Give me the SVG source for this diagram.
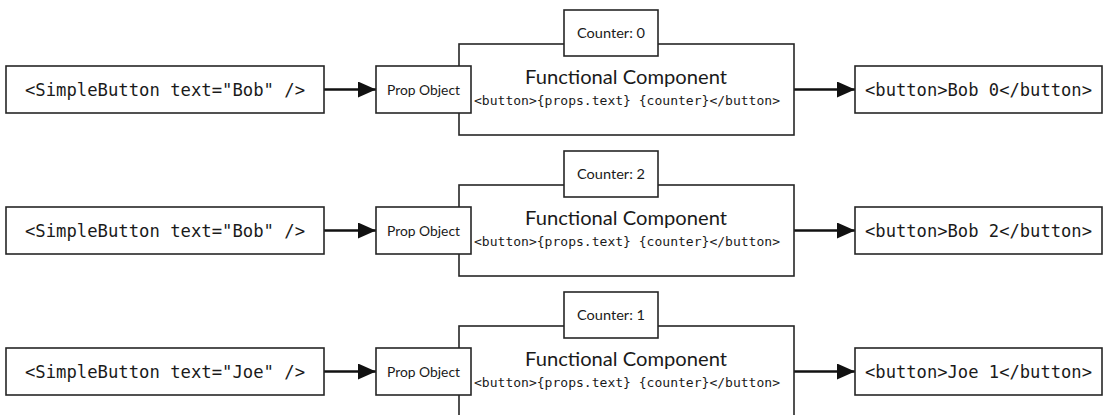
<svg xmlns="http://www.w3.org/2000/svg" width="1105" height="415" viewBox="0 0 1105 415">
  <style>
    .box { fill: #ffffff; stroke: #262626; stroke-width: 1.6; }
    .mono { font-family: "DejaVu Sans Mono", "Liberation Mono", monospace; fill: #1a1a1a; text-anchor: middle; }
    .big { font-size: 17px; }
    .code { font-size: 13px; }
    .sans { font-family: Lato, "Open Sans", "Liberation Sans", sans-serif; fill: #1a1a1a; text-anchor: middle; }
    .title { font-size: 19px; }
    .small { font-size: 13.5px; }
    .conn { stroke: #111111; stroke-width: 2.6; fill: none; marker-end: url(#arrow); }
  </style>
  <defs>
    <marker id="arrow" markerUnits="userSpaceOnUse" markerWidth="18" markerHeight="16" refX="18" refY="8" orient="auto">
      <path d="M0,0 L18,8 L0,16 z" fill="#111111"/>
    </marker>
  </defs>
  <rect width="1105" height="415" fill="#ffffff"/>

  <g id="connectors">
    <line class="conn" x1="324" y1="89.5" x2="376" y2="89.5"/>
    <line class="conn" x1="794" y1="89.5" x2="855" y2="89.5"/>
    <line class="conn" x1="324" y1="230.5" x2="376" y2="230.5"/>
    <line class="conn" x1="794" y1="230.5" x2="855" y2="230.5"/>
    <line class="conn" x1="324" y1="371.5" x2="376" y2="371.5"/>
    <line class="conn" x1="794" y1="371.5" x2="855" y2="371.5"/>
  </g>

  <!-- Row 1 -->
  <g id="input1">
    <rect class="box" x="6" y="66" width="318" height="47"/>
    <text class="mono big" x="165" y="95.5" textLength="280" lengthAdjust="spacingAndGlyphs">&lt;SimpleButton text="Bob" /&gt;</text>
  </g>
  <g id="component1">
    <rect class="box" x="459" y="44" width="335" height="91"/>
    <text class="sans title" x="626" y="84" textLength="202" lengthAdjust="spacingAndGlyphs">Functional Component</text>
    <text class="mono code" x="627" y="105" textLength="306" lengthAdjust="spacingAndGlyphs">&lt;button&gt;{props.text} {counter}&lt;/button&gt;</text>
  </g>
  <g id="counter1">
    <rect class="box" x="564" y="10" width="94" height="46"/>
    <text class="sans small" x="611" y="38" textLength="68" lengthAdjust="spacingAndGlyphs">Counter: 0</text>
  </g>
  <g id="props1">
    <rect class="box" x="376" y="66" width="95" height="47"/>
    <text class="sans small" x="423.5" y="94.5" textLength="73" lengthAdjust="spacingAndGlyphs">Prop Object</text>
  </g>
  <g id="output1">
    <rect class="box" x="855" y="66" width="247" height="47"/>
    <text class="mono big" x="978.5" y="95.5" textLength="227" lengthAdjust="spacingAndGlyphs">&lt;button&gt;Bob 0&lt;/button&gt;</text>
  </g>

  <!-- Row 2 -->
  <g id="input2">
    <rect class="box" x="6" y="207" width="318" height="47"/>
    <text class="mono big" x="165" y="236.5" textLength="280" lengthAdjust="spacingAndGlyphs">&lt;SimpleButton text="Bob" /&gt;</text>
  </g>
  <g id="component2">
    <rect class="box" x="459" y="185" width="335" height="91"/>
    <text class="sans title" x="626" y="225" textLength="202" lengthAdjust="spacingAndGlyphs">Functional Component</text>
    <text class="mono code" x="627" y="246" textLength="306" lengthAdjust="spacingAndGlyphs">&lt;button&gt;{props.text} {counter}&lt;/button&gt;</text>
  </g>
  <g id="counter2">
    <rect class="box" x="564" y="151" width="94" height="46"/>
    <text class="sans small" x="611" y="179" textLength="68" lengthAdjust="spacingAndGlyphs">Counter: 2</text>
  </g>
  <g id="props2">
    <rect class="box" x="376" y="207" width="95" height="47"/>
    <text class="sans small" x="423.5" y="235.5" textLength="73" lengthAdjust="spacingAndGlyphs">Prop Object</text>
  </g>
  <g id="output2">
    <rect class="box" x="855" y="207" width="247" height="47"/>
    <text class="mono big" x="978.5" y="236.5" textLength="227" lengthAdjust="spacingAndGlyphs">&lt;button&gt;Bob 2&lt;/button&gt;</text>
  </g>

  <!-- Row 3 -->
  <g id="input3">
    <rect class="box" x="6" y="348" width="318" height="47"/>
    <text class="mono big" x="165" y="377.5" textLength="280" lengthAdjust="spacingAndGlyphs">&lt;SimpleButton text="Joe" /&gt;</text>
  </g>
  <g id="component3">
    <rect class="box" x="459" y="326" width="335" height="91"/>
    <text class="sans title" x="626" y="366" textLength="202" lengthAdjust="spacingAndGlyphs">Functional Component</text>
    <text class="mono code" x="627" y="387" textLength="306" lengthAdjust="spacingAndGlyphs">&lt;button&gt;{props.text} {counter}&lt;/button&gt;</text>
  </g>
  <g id="counter3">
    <rect class="box" x="564" y="292" width="94" height="46"/>
    <text class="sans small" x="611" y="320" textLength="68" lengthAdjust="spacingAndGlyphs">Counter: 1</text>
  </g>
  <g id="props3">
    <rect class="box" x="376" y="348" width="95" height="47"/>
    <text class="sans small" x="423.5" y="376.5" textLength="73" lengthAdjust="spacingAndGlyphs">Prop Object</text>
  </g>
  <g id="output3">
    <rect class="box" x="855" y="348" width="247" height="47"/>
    <text class="mono big" x="978.5" y="377.5" textLength="227" lengthAdjust="spacingAndGlyphs">&lt;button&gt;Joe 1&lt;/button&gt;</text>
  </g>
</svg>
